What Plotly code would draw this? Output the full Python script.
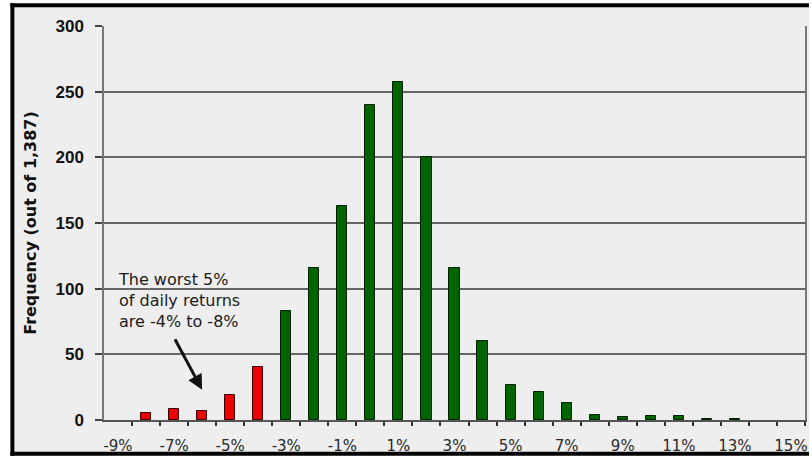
import plotly.graph_objects as go

# Daily return buckets (%) and how many days fell into each
returns = [-9, -8, -7, -6, -5, -4, -3, -2, -1, 0, 1, 2, 3, 4, 5, 6, 7, 8, 9, 10, 11, 12, 13, 14, 15]
frequency = [0, 5, 8, 7, 19, 40, 83, 116, 163, 240, 257, 200, 116, 60, 27, 21, 13, 4, 2, 3, 3, 1, 1, 0, 0]
tail_buckets = [-8, -7, -6, -5, -4]

x_tick_vals = [-9, -7, -5, -3, -1, 1, 3, 5, 7, 9, 11, 13, 15]
x_tick_text = ["-9%", "-7%", "-5%", "-3%", "-1%", "1%", "3%", "5%", "7%", "9%", "11%", "13%", "15%"]
y_tick_vals = [0, 50, 100, 150, 200, 250, 300]

W, H = 812, 459
ML, MR, MT, MB = 104, 4, 26, 36
PW, PH = W - ML - MR, H - MT - MB


def px_x(p):
    return (p - ML) / PW


def px_y(p):
    return (H - MB - p) / PH


colors = ["#ee0000" if r in tail_buckets else "#006400" for r in returns]
outline = ["#3a0000" if r in tail_buckets else "#002200" for r in returns]
# empty buckets get no outline so nothing is drawn on the baseline
outline_w = [1 if f > 0 else 0 for f in frequency]

fig = go.Figure(
    go.Bar(
        x=returns,
        y=frequency,
        width=0.36,
        marker=dict(color=colors, line=dict(color=outline, width=outline_w)),
        hoverinfo="x+y",
    )
)

fig.update_layout(
    width=W,
    height=H,
    margin=dict(l=ML, r=MR, t=MT, b=MB),
    paper_bgcolor="white",
    plot_bgcolor="#eeeeee",
    showlegend=False,
    bargap=0,
    xaxis=dict(
        range=[-9.5, 15.5],
        tickmode="array",
        tickvals=x_tick_vals,
        ticktext=x_tick_text,
        ticks="outside",
        ticklen=11,
        tickcolor="rgba(0,0,0,0)",
        tickfont=dict(family="DejaVu Sans", size=15, color="#2a2a2a"),
        showgrid=False,
        zeroline=False,
        showline=True,
        linecolor="#555555",
        linewidth=1.5,
        minor=dict(
            tickmode="array",
            tickvals=[v + 0.5 for v in returns],
            ticks="outside",
            ticklen=4,
            tickcolor="#333333",
            tickwidth=1.5,
            showgrid=False,
        ),
    ),
    yaxis=dict(
        range=[0, 300],
        tickmode="array",
        tickvals=y_tick_vals,
        ticks="outside",
        ticklen=7,
        tickcolor="#444444",
        tickwidth=1.5,
        ticklabelstandoff=8,
        tickfont=dict(family="Liberation Sans", size=17, color="#111111", weight="bold"),
        showgrid=True,
        gridcolor="#666666",
        gridwidth=1.5,
        zeroline=False,
        showline=True,
        linecolor="#777777",
        linewidth=1.5,
        mirror=True,
        title=dict(
            text="Frequency (out of 1,387)",
            font=dict(family="DejaVu Sans", size=16, color="#111111", weight="bold"),
            standoff=15,
        ),
    ),
)

# Light panel with the dark frame on the left, top and bottom
fig.add_shape(type="rect", xref="paper", yref="paper",
              x0=px_x(12), x1=px_x(812), y0=px_y(457), y1=px_y(5),
              fillcolor="#eeeeee", line=dict(width=0), layer="below")
for x0, y0, x1, y1 in [(12, 3, 12, 459), (10, 5, 812, 5), (10, 457, 812, 457)]:
    fig.add_shape(type="line", xref="paper", yref="paper",
                  x0=px_x(x0), x1=px_x(x1), y0=px_y(y0), y1=px_y(y1),
                  line=dict(color="black", width=4), layer="above")

# Callout on the left tail
fig.add_annotation(
    xref="paper", yref="paper",
    x=px_x(116), y=px_y(270),
    xanchor="left", yanchor="top",
    align="left",
    showarrow=False,
    text="The worst 5%<br>of daily returns<br>are -4% to -8%",
    font=dict(family="DejaVu Sans", size=16, color="#1a1a1a"),
)
fig.add_annotation(
    x=-6, y=23,
    ax=-28, ay=-52,
    text="",
    showarrow=True,
    arrowhead=2,
    arrowsize=1,
    arrowwidth=3,
    arrowcolor="#111111",
)

fig.write_html("out.html")
